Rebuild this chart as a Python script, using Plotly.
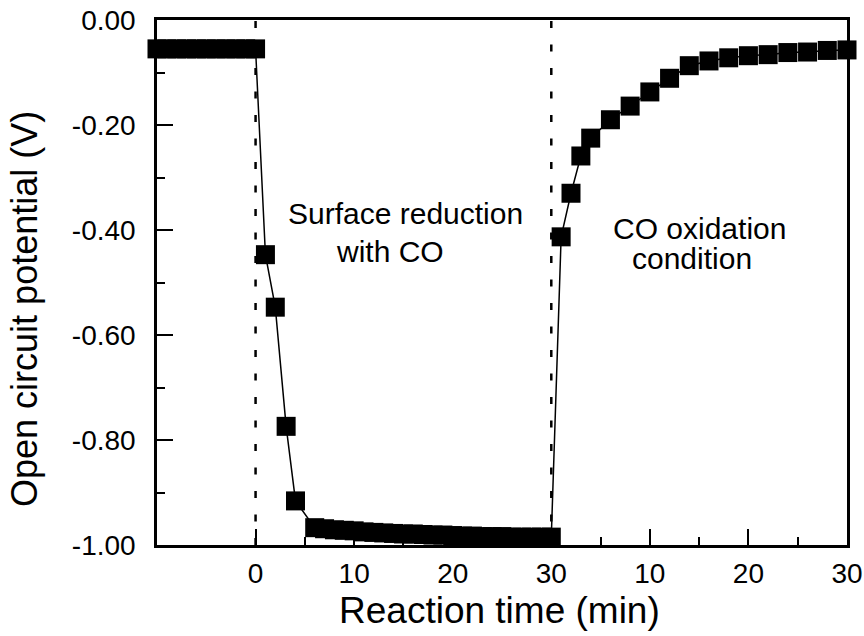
import plotly.graph_objects as go

# ---- data ----
# before the switch: times -10..0 min, potential (V)
pre_t = [-10, -9, -8, -7, -6, -5, -4, -3, -2, -1, 0]
pre_v = [-0.055, -0.055, -0.055, -0.055, -0.055, -0.055, -0.055, -0.055, -0.055, -0.055, -0.055]

# surface reduction with CO: time (min) since switch, potential (V)
red_t = [1, 2, 3.1, 4.05, 6, 7, 8, 9, 10, 11, 12, 13, 14, 15, 16, 17, 18,
         19, 20, 21, 22, 23, 24, 25, 26, 27, 28, 29, 30]
red_v = [-0.447, -0.547, -0.774, -0.916, -0.967, -0.969, -0.971, -0.972, -0.973,
         -0.975, -0.976, -0.977, -0.978, -0.979, -0.979, -0.980, -0.981, -0.981,
         -0.982, -0.983, -0.983, -0.984, -0.984, -0.984, -0.985, -0.985, -0.985,
         -0.985, -0.985]

# CO oxidation condition: time (min) since second switch, potential (V)
ox_t = [1, 2, 3, 4, 6, 8, 10, 12, 14, 16, 18, 20, 22, 24, 26, 28, 30]
ox_v = [-0.413, -0.330, -0.259, -0.225, -0.190, -0.164, -0.137, -0.111, -0.087,
        -0.078, -0.072, -0.068, -0.066, -0.062, -0.061, -0.058, -0.057]

switch_times = [0, 30]
x_tickvals = [0, 10, 20, 30, 40, 50, 60]
x_ticktext = ["0", "10", "20", "30", "10", "20", "30"]
x_minor = [5, 15, 25, 35, 45, 55]
y_tickvals = [0, -0.2, -0.4, -0.6, -0.8, -1.0]
y_ticktext = ["0.00", "-0.20", "-0.40", "-0.60", "-0.80", "-1.00"]
y_minor = [-0.1, -0.3, -0.5, -0.7, -0.9]

# continuous time axis: second segment starts at 30 min
x_all = pre_t + red_t + [switch_times[1] + t for t in ox_t]
v_all = pre_v + red_v + ox_v

FONT = "Liberation Sans, Arial, Helvetica, sans-serif"

fig = go.Figure()
for xs in switch_times:
    fig.add_vline(x=xs, line=dict(color="black", width=2.5, dash="7px,16.5px"),
                  layer="below")

fig.add_trace(go.Scatter(
    x=x_all, y=v_all, mode="lines+markers",
    line=dict(color="black", width=1.5),
    marker=dict(symbol="square", size=19, color="black", line=dict(width=0)),
    cliponaxis=False, showlegend=False, hoverinfo="x+y"))

ann_font = dict(family=FONT, size=30, color="black")
fig.add_annotation(x=15.2, y=-0.368, text="Surface reduction", showarrow=False, font=ann_font)
fig.add_annotation(x=13.6, y=-0.440, text="with CO", showarrow=False, font=ann_font)
fig.add_annotation(x=45.0, y=-0.398, text="CO oxidation", showarrow=False, font=ann_font)
fig.add_annotation(x=44.3, y=-0.455, text="condition", showarrow=False, font=ann_font)

# axis titles
fig.add_annotation(xref="paper", yref="paper", x=0.497, y=-0.124,
                   xanchor="center", yanchor="middle", showarrow=False,
                   text="Reaction time (min)", font=dict(family=FONT, size=37, color="black"))
fig.add_annotation(xref="paper", yref="paper", x=-0.191, y=0.45,
                   xanchor="center", yanchor="middle", showarrow=False, textangle=-90,
                   text="Open circuit potential (V)", font=dict(family=FONT, size=36, color="black"))

fig.update_layout(
    width=864, height=636,
    margin=dict(l=157, r=17, t=20, b=91, autoexpand=False),
    paper_bgcolor="white", plot_bgcolor="white",
    font=dict(family=FONT, color="black"),
    showlegend=False,
)
fig.update_xaxes(
    range=[-10, 60], tickmode="array", tickvals=x_tickvals, ticktext=x_ticktext,
    ticks="inside", ticklen=16, tickwidth=2, tickcolor="black",
    minor=dict(tickmode="array", tickvals=x_minor, ticks="inside", ticklen=8,
               tickwidth=2, tickcolor="black", showgrid=False),
    showline=True, linecolor="black", linewidth=2.5, mirror=True,
    showgrid=False, zeroline=False, automargin=False, ticklabeloverflow="allow",
    tickfont=dict(family=FONT, size=28, color="black"), ticklabelstandoff=2,
)
fig.update_yaxes(
    range=[-1.0, 0.0], tickmode="array", tickvals=y_tickvals, ticktext=y_ticktext,
    ticks="inside", ticklen=16, tickwidth=2, tickcolor="black",
    minor=dict(tickmode="array", tickvals=y_minor, ticks="inside", ticklen=8,
               tickwidth=2, tickcolor="black", showgrid=False),
    showline=True, linecolor="black", linewidth=2.5, mirror=True,
    showgrid=False, zeroline=False, automargin=False, ticklabeloverflow="allow",
    tickfont=dict(family=FONT, size=28, color="black"), ticklabelstandoff=13,
)

# remove the default 8 px page margin so the figure fills the window exactly
fig.write_html("out.html",
               config={"displayModeBar": False},
               post_script="document.body.style.margin='0';document.body.style.overflow='hidden';")
